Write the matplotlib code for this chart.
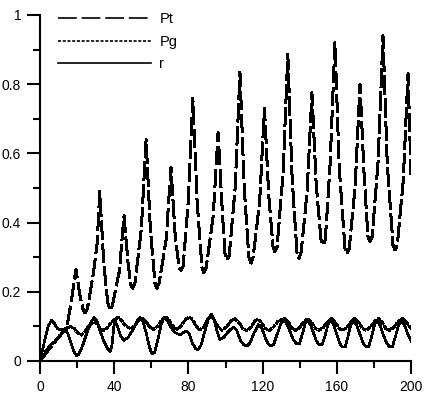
import matplotlib
matplotlib.use("Agg")
import matplotlib.pyplot as plt
from matplotlib.ticker import MultipleLocator, FuncFormatter

plt.rcParams['font.family'] = ['Liberation Sans', 'DejaVu Sans']
plt.rcParams['font.size'] = 10
plt.rcParams['lines.scale_dashes'] = False

# Pt (dashed)
pt_x = [0, 5, 10, 14.4, 16.5, 19.4, 21.5, 23.2, 24.3, 25.5, 28.7, 30.8, 32.2,
        34.4, 36.5, 37.7, 39, 42.8, 45.3, 47.5, 49.0, 50.0, 51.2, 54.6, 57.2,
        59.5, 62, 63, 64.2, 68, 70.6, 72.9, 75, 76, 77.2, 79.9, 82.4,
        84.7, 87.3, 88.4, 89.6, 93.4, 96, 98.3, 99.8, 100.8, 102, 105.2, 107.8,
        110.1, 112.6, 113.7, 114.9, 118.4, 121, 123.3, 125.6, 126.6, 127.8, 131, 133.6,
        135.9, 138.5, 139.6, 140.8, 144, 146.6, 148.9, 151.5, 152.6, 153.8, 156.4, 159,
        161.3, 164.4, 165.5, 166.7, 169.9, 172.5, 174.8, 176.8, 177.9, 179.1, 182.3, 184.9,
        187.2, 190.3, 191.4, 192.6, 195.8, 198.4, 200]
pt_y = [0, 0.035, 0.068, 0.097, 0.16, 0.265, 0.19, 0.15, 0.139, 0.15, 0.25, 0.34, 0.49,
        0.28, 0.17, 0.147, 0.16, 0.26, 0.42, 0.28, 0.22, 0.21, 0.225, 0.38, 0.64,
        0.38, 0.225, 0.21, 0.225, 0.35, 0.56, 0.36, 0.27, 0.262, 0.275, 0.46, 0.76,
        0.46, 0.27, 0.255, 0.27, 0.42, 0.66, 0.43, 0.305, 0.292, 0.305, 0.5, 0.835,
        0.5, 0.30, 0.283, 0.30, 0.46, 0.73, 0.48, 0.33, 0.316, 0.33, 0.54, 0.887,
        0.53, 0.315, 0.297, 0.315, 0.49, 0.775, 0.51, 0.35, 0.335, 0.35, 0.57, 0.92,
        0.56, 0.325, 0.309, 0.325, 0.505, 0.80, 0.53, 0.36, 0.345, 0.36, 0.58, 0.94,
        0.57, 0.335, 0.321, 0.335, 0.52, 0.83, 0.54]

# Pg (dotted)
pg_x = [0, 3, 6, 9, 12, 14.5, 16.5, 18.5, 20.5, 22.3, 24.3, 26.5, 28.7, 30.5, 32.5,
        34.3, 36.3, 38.5, 40.5, 42.2, 44.2, 46.5, 49, 51.3, 53.3, 55, 56.8, 58.8, 61,
        63.3, 65.5, 67.8, 69.7, 71.7, 73.7, 76, 78.3, 80.5, 82.5, 84.3, 86, 88.3, 90.5,
        92, 93.8, 95.8, 98, 100.3, 102.8, 105, 107, 109.5, 111.5, 113.7, 115.8, 117.3,
        119.3, 121.5, 123.5, 125.7, 128, 130, 132, 134, 136, 137.8, 140, 142.2, 144.5,
        146.5, 148.5, 150.5, 152.7, 155, 157.2, 159.2, 161.2, 163.2, 165.3, 167.6, 169.8,
        171.8, 173.8, 175.8, 177.9, 180.2, 182.4, 184.4, 186.4, 188.4, 190.6, 193, 195.6,
        197.6, 200]
pg_y = [0, 0.028, 0.048, 0.063, 0.082, 0.095, 0.1, 0.094, 0.08, 0.075, 0.085, 0.103, 0.114, 0.108, 0.094,
        0.089, 0.096, 0.112, 0.122, 0.126, 0.115, 0.1, 0.093, 0.104, 0.118, 0.124, 0.117, 0.1, 0.091,
        0.1, 0.118, 0.128, 0.118, 0.1, 0.092, 0.1, 0.12, 0.127, 0.118, 0.1, 0.09, 0.098, 0.122,
        0.13, 0.12, 0.1, 0.089, 0.097, 0.115, 0.122, 0.113, 0.092, 0.088, 0.097, 0.115, 0.121,
        0.112, 0.094, 0.088, 0.097, 0.113, 0.12, 0.123, 0.112, 0.094, 0.089, 0.097, 0.113, 0.123,
        0.112, 0.094, 0.089, 0.097, 0.113, 0.123, 0.112, 0.094, 0.089, 0.097, 0.113, 0.123,
        0.112, 0.094, 0.089, 0.097, 0.113, 0.123, 0.112, 0.094, 0.089, 0.097, 0.113, 0.123,
        0.112, 0.094]

# r (solid)
r_x = [0, 1.5, 3, 4.5, 6.2, 7.8, 9.5, 11.5, 13.5, 15, 16.8, 18.5, 19.7, 21, 23, 25.5,
       27.5, 29.2, 30.8, 32.8, 35, 36.7, 37.8, 38.8, 39.8, 40.6, 41.7, 43.5, 45.3, 47.5,
       50, 52.3, 53.9, 55.5, 57.3, 59, 60.3, 61.8, 63.5, 65.3, 66.9, 68.5, 70.5, 72.5,
       75.5, 77.3, 78.8, 80.5, 82.3, 84, 85.3, 86.8, 88.8, 90.8, 92.3, 93.8, 95.5, 97,
       99, 101.5, 104.2, 106, 108, 110, 111.6, 113.2, 115.3, 117.7, 119.5, 121.2, 123,
       124.5, 126, 128, 130, 131.5, 133, 134.8, 136.5, 138.3, 139.8, 141.3, 143, 144.2,
       145.8, 147.5, 149, 150.5, 152, 153.8, 155.5, 156.5, 158.3, 160, 161.5, 163, 164.5,
       166, 167.5, 168.9, 170.7, 172.5, 174.2, 175.8, 177.2, 178.8, 180.3, 181.6, 183.3,
       185, 186.8, 188.5, 190, 191.6, 193.3, 194.8, 196.5, 198.2, 200]
r_y = [0, 0.035, 0.07, 0.102, 0.117, 0.108, 0.093, 0.09, 0.092, 0.08, 0.05, 0.025, 0.016, 0.02, 0.045, 0.085,
       0.112, 0.125, 0.115, 0.08, 0.05, 0.032, 0.028, 0.045, 0.1, 0.116, 0.1, 0.072, 0.06, 0.068,
       0.09, 0.115, 0.126, 0.115, 0.08, 0.04, 0.021, 0.025, 0.06, 0.105, 0.127, 0.118, 0.098, 0.083,
       0.075, 0.082, 0.087, 0.078, 0.05, 0.035, 0.033, 0.045, 0.085, 0.122, 0.135, 0.12, 0.085, 0.062,
       0.068, 0.085, 0.098, 0.09, 0.06, 0.046, 0.043, 0.052, 0.08, 0.105, 0.097, 0.07, 0.05,
       0.043, 0.048, 0.08, 0.11, 0.117, 0.108, 0.085, 0.062, 0.05, 0.05, 0.075, 0.11, 0.116,
       0.105, 0.08, 0.058, 0.047, 0.047, 0.075, 0.11, 0.117, 0.105, 0.078, 0.052, 0.04, 0.04,
       0.07, 0.105, 0.116, 0.104, 0.077, 0.052, 0.041, 0.042, 0.07, 0.105, 0.116, 0.104,
       0.077, 0.052, 0.041, 0.042, 0.07, 0.105, 0.116, 0.104, 0.078, 0.058]

fig = plt.figure(figsize=(4.24, 3.95), dpi=100)
ax = fig.add_axes([40 / 424, 1 - 361 / 395, 371 / 424, 346 / 395])

lw = 1.2
ax.plot(pt_x, pt_y, color='black', lw=lw, dashes=(13.5, 3.5), label='Pt', antialiased=False)
ax.plot(pg_x, pg_y, color='black', lw=lw, dashes=(2.2, 1.2), label='Pg', antialiased=False)
ax.plot(r_x, r_y, color='black', lw=lw, label='r', antialiased=False)

ax.set_xlim(0, 200)
ax.set_ylim(0, 1)
for side in ['top', 'right']:
    ax.spines[side].set_visible(False)
for side in ['left', 'bottom']:
    ax.spines[side].set_linewidth(1.5)

ax.xaxis.set_major_locator(MultipleLocator(40))
ax.xaxis.set_minor_locator(MultipleLocator(20))
ax.yaxis.set_major_locator(MultipleLocator(0.2))
ax.yaxis.set_minor_locator(MultipleLocator(0.1))
ax.yaxis.set_major_formatter(FuncFormatter(lambda v, _: f'{v:g}'))
ax.tick_params(which='major', direction='out', length=9.5, width=1.5, labelsize=10)
ax.tick_params(which='minor', direction='out', length=5, width=1.5)
ax.tick_params(axis='x', pad=4)
ax.tick_params(axis='y', pad=4)

fig.legend(loc='upper left', bbox_to_anchor=(58 / 424, 1 - 12 / 395), frameon=False,
           borderpad=0, borderaxespad=0, handlelength=6.4, handletextpad=0.55,
           labelspacing=0.6, fontsize=10.5)

fig.savefig('out.png', dpi=100)
